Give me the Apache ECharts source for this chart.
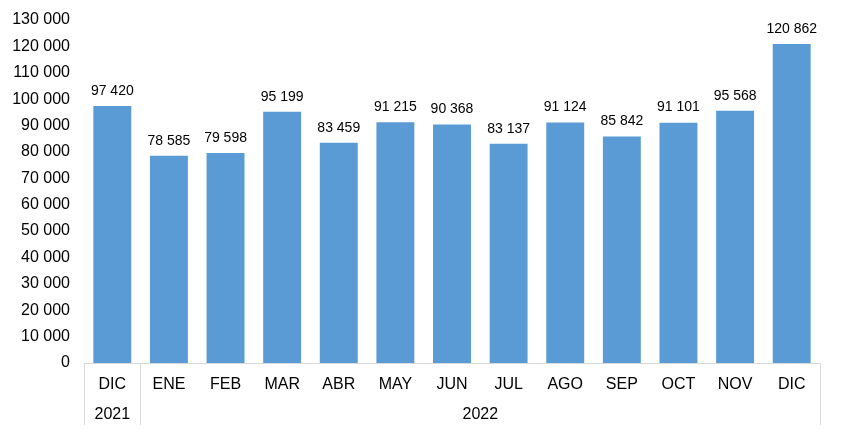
<!DOCTYPE html>
<html>
<head>
<meta charset="utf-8">
<script src="https://cdn.jsdelivr.net/npm/echarts@6/dist/echarts.min.js"></script>
<style>html,body{margin:0;padding:0;background:#fff}#c{width:841px;height:436px}</style>
</head>
<body>
<div id="c"></div>
<script>
var months = ['DIC','ENE','FEB','MAR','ABR','MAY','JUN','JUL','AGO','SEP','OCT','NOV','DIC'];
var values = [97420,78585,79598,95199,83459,91215,90368,83137,91124,85842,91101,95568,120862];
var years = ['2021','2022'];
var yearSpans = [1,12]; // number of months per year group

function fmt(v){ return String(v).replace(/\B(?=(\d{3})+(?!\d))/g,' '); }

// boundaries and centers of year groups in category units
var yearBounds=[0], yearCenters=[];
(function(){var acc=0;for(var i=0;i<yearSpans.length;i++){yearCenters.push(acc+yearSpans[i]/2);acc+=yearSpans[i];yearBounds.push(acc);}})();

var chart = echarts.init(document.getElementById('c'));
var font = 'Liberation Sans, Arial, sans-serif';
chart.setOption({
  animation:false,
  grid:{left:84,right:21,top:20,bottom:73,containLabel:false},
  xAxis:[{
    type:'category', data:months, position:'bottom',
    axisLine:{show:true,lineStyle:{color:'#d9d9d9',width:1}},
    axisTick:{show:false},
    axisLabel:{color:'#000',fontSize:16,fontFamily:font,margin:14,interval:0}
  },{
    type:'value', min:0, max:months.length, position:'bottom',
    axisLine:{show:false},
    splitLine:{show:false},
    axisTick:{show:true,customValues:yearBounds,length:62,lineStyle:{color:'#d9d9d9',width:1}},
    axisLabel:{show:true,customValues:yearCenters,margin:44,color:'#000',fontSize:16,fontFamily:font,
      formatter:function(v){var i=yearCenters.indexOf(v);return i>=0?years[i]:'';}}
  }],
  yAxis:{
    type:'value', min:0, max:130000, interval:10000,
    axisLine:{show:false}, axisTick:{show:false}, splitLine:{show:false},
    axisLabel:{color:'#000',fontSize:16,fontFamily:font,margin:14,formatter:fmt}
  },
  series:[{
    type:'bar', data:values, xAxisIndex:0, barCategoryGap:'33%',
    itemStyle:{color:'#5B9BD5'},
    label:{show:true,position:'top',distance:8,color:'#000',fontSize:14,fontFamily:font,
      formatter:function(p){return fmt(p.value);}}
  }]
});
</script>
</body>
</html>
